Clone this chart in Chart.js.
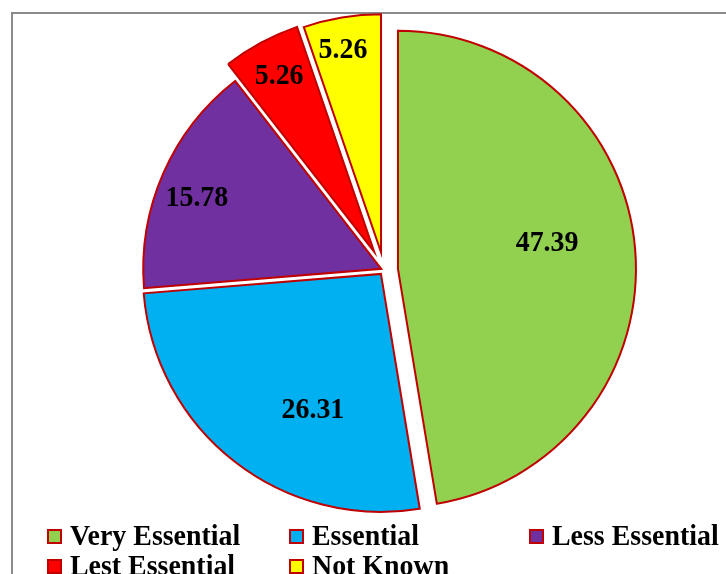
<!DOCTYPE html>
<html>
<head>
<meta charset="utf-8">
<script src="https://cdn.jsdelivr.net/npm/chart.js@4.4.1/dist/chart.umd.min.js"></script>
<style>
  html, body { margin: 0; padding: 0; background: #fff; width: 726px; height: 574px; overflow: hidden; }
  #wrap { position: relative; width: 726px; height: 574px; }
  #frame { position: absolute; left: 11px; top: 12px; width: 800px; height: 700px;
           border-left: 2px solid #8a8a8a; border-top: 2px solid #8a8a8a; }
  #chart { position: absolute; left: 0; top: 0; }
</style>
</head>
<body>
<div id="wrap">
  <div id="frame"></div>
  <canvas id="chart" width="726" height="574"></canvas>
</div>
<script>
// Survey responses (percent)
const categories = ['Very Essential', 'Essential', 'Less Essential', 'Lest Essential', 'Not Known'];
const shares = [47.39, 26.31, 15.78, 5.26, 5.26];

// Styling
const sliceColors = ['#92D050', '#00B0F0', '#7030A0', '#FF0000', '#FFFF00'];
const edgeColor = '#C00000';
const explodeBy = [14, 5, 3, 20.5, 18];                // px each slice is pulled out
const labelRadius = [0.636, 0.639, 0.83, 0.84, 0.864]; // fraction of radius
const labelTurn = [-5.2, -11.4, -2.7, 0, -1.2];        // degrees off the slice bisector
const fontFace = '"Liberation Serif", "Times New Roman", serif';
const textFont = 'bold 30px ' + fontFace;
const textSqueeze = 0.93;                              // narrow, tall lettering

// Draw text slightly condensed horizontally
function drawText(ctx, str, x, y) {
  ctx.save();
  ctx.translate(x, y);
  ctx.scale(textSqueeze, 1);
  ctx.fillText(str, 0, 0);
  ctx.restore();
}

// Pull each slice outward along its bisector
const explodePlugin = {
  id: 'explode',
  afterDatasetUpdate(chart, args) {
    args.meta.data.forEach((arc, i) => {
      const mid = (arc.startAngle + arc.endAngle) / 2;
      const d = explodeBy[i] || 0;
      arc.x += Math.cos(mid) * d;
      arc.y += Math.sin(mid) * d;
    });
  }
};

// Value labels inside the slices
const valueLabels = {
  id: 'valueLabels',
  afterDatasetsDraw(chart) {
    const ctx = chart.ctx;
    const meta = chart.getDatasetMeta(0);
    const values = chart.data.datasets[0].data;
    ctx.save();
    ctx.font = textFont;
    ctx.fillStyle = '#000';
    ctx.textAlign = 'center';
    ctx.textBaseline = 'middle';
    meta.data.forEach((arc, i) => {
      const a = (arc.startAngle + arc.endAngle) / 2 + labelTurn[i] * Math.PI / 180;
      const r = arc.outerRadius * labelRadius[i];
      drawText(ctx, values[i].toFixed(2), arc.x + Math.cos(a) * r, arc.y + Math.sin(a) * r);
    });
    ctx.restore();
  }
};

// Legend laid out in three columns under the pie
const gridLegend = {
  id: 'gridLegend',
  afterDraw(chart) {
    const ctx = chart.ctx;
    const colX = [47, 289, 529];
    const rowBase = [545, 575];
    const box = 15;
    const gap = 23;
    const ds = chart.data.datasets[0];
    ctx.save();
    ctx.font = textFont;
    ctx.textAlign = 'left';
    ctx.textBaseline = 'alphabetic';
    chart.data.labels.forEach((label, i) => {
      const x = colX[i % 3];
      const base = rowBase[Math.floor(i / 3)];
      const top = base - 16;
      ctx.fillStyle = ds.backgroundColor[i];
      ctx.fillRect(x, top, box, box);
      ctx.lineWidth = 2;
      ctx.strokeStyle = edgeColor;
      ctx.strokeRect(x + 1, top + 1, box - 2, box - 2);
      ctx.fillStyle = '#000';
      drawText(ctx, label, x + gap, base);
    });
    ctx.restore();
  }
};

new Chart(document.getElementById('chart'), {
  type: 'pie',
  data: {
    labels: categories,
    datasets: [{
      data: shares,
      backgroundColor: sliceColors,
      borderColor: edgeColor,
      borderWidth: 2,
      borderJoinStyle: 'miter',
      radius: 238,
      clip: false
    }]
  },
  options: {
    responsive: false,
    animation: false,
    events: [],
    layout: { padding: { left: 42, right: 0, top: 0, bottom: 34 } },
    plugins: {
      legend: { display: false },
      tooltip: { enabled: false }
    }
  },
  plugins: [explodePlugin, valueLabels, gridLegend]
});
</script>
</body>
</html>
